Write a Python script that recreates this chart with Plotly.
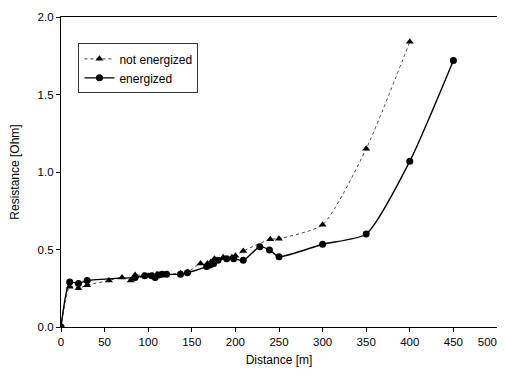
import plotly.graph_objects as go

# Not energized (triangles)
ne_x = [0, 10, 20, 30, 55, 70, 80, 85, 95, 100, 105, 110, 115, 120, 137, 145,
        160, 168, 172, 176, 186, 196, 200, 209, 240, 250, 300, 350, 400]
ne_y = [0.0, 0.26, 0.25, 0.27, 0.30, 0.32, 0.30, 0.335, 0.33, 0.33, 0.33, 0.34, 0.34, 0.34, 0.346, 0.353,
        0.41, 0.41, 0.42, 0.44, 0.45, 0.45, 0.46, 0.49, 0.566, 0.57, 0.66, 1.15, 1.84]

# Energized (circles)
en_x = [0, 10, 20, 30, 85, 96, 104, 108, 112, 116, 121, 137, 145,
        167, 171, 175, 180, 190, 198, 209, 228, 239, 250, 300, 350, 400, 450]
en_y = [0.0, 0.29, 0.28, 0.30, 0.32, 0.33, 0.33, 0.32, 0.335, 0.34, 0.34, 0.34, 0.35,
        0.39, 0.40, 0.41, 0.43, 0.44, 0.44, 0.43, 0.518, 0.497, 0.454, 0.534, 0.60, 1.07, 1.72]

x_ticks = [0, 50, 100, 150, 200, 250, 300, 350, 400, 450, 500]
x_labels = ["0", "50", "100", "150", "200", "250", "300", "350", "400", "450",
            "500\u00a0\u00a0\u00a0\u00a0\u00a0\u00a0"]
y_ticks = [0.0, 0.5, 1.0, 1.5, 2.0]

FONT = "Liberation Sans, Arial, sans-serif"

fig = go.Figure()
fig.add_trace(go.Scatter(
    x=ne_x, y=ne_y, name="not energized", mode="lines+markers",
    line=dict(color="#444444", width=1, dash="dot", shape="spline", smoothing=0.6),
    marker=dict(symbol="triangle-up", size=7, color="black"),
))
fig.add_trace(go.Scatter(
    x=en_x, y=en_y, name="energized", mode="lines+markers",
    line=dict(color="black", width=1.4, shape="spline", smoothing=0.6),
    marker=dict(symbol="circle", size=7, color="black"),
))

axis_common = dict(
    showgrid=False, zeroline=False, showline=True, linecolor="black", linewidth=1.2,
    mirror=True, ticks="outside", ticklen=4, tickcolor="black", automargin=False,
    ticklabeloverflow="allow",
    tickfont=dict(family=FONT, size=11.5, color="black"),
)

# page body adds an 8px offset; size the figure to compensate
fig.update_layout(
    width=497, height=368,
    margin=dict(l=53, r=8, t=9, b=49),
    paper_bgcolor="white", plot_bgcolor="white",
    showlegend=True,
    legend=dict(
        x=0.04, y=0.915, xanchor="left", yanchor="top",
        bgcolor="white", bordercolor="#333333", borderwidth=1,
        font=dict(family=FONT, size=12, color="black"),
        itemwidth=30, tracegroupgap=0,
    ),
    xaxis=dict(range=[0, 500], tickvals=x_ticks, ticktext=x_labels,
               title=dict(text="Distance [m]", font=dict(family=FONT, size=12, color="black"), standoff=8),
               **axis_common),
    yaxis=dict(range=[0, 2.0], tickvals=y_ticks, ticktext=[f"{v:.1f}" for v in y_ticks],
               title=dict(text="Resistance [Ohm]", font=dict(family=FONT, size=12, color="black"), standoff=16),
               **axis_common),
)

fig.write_html("out.html")
